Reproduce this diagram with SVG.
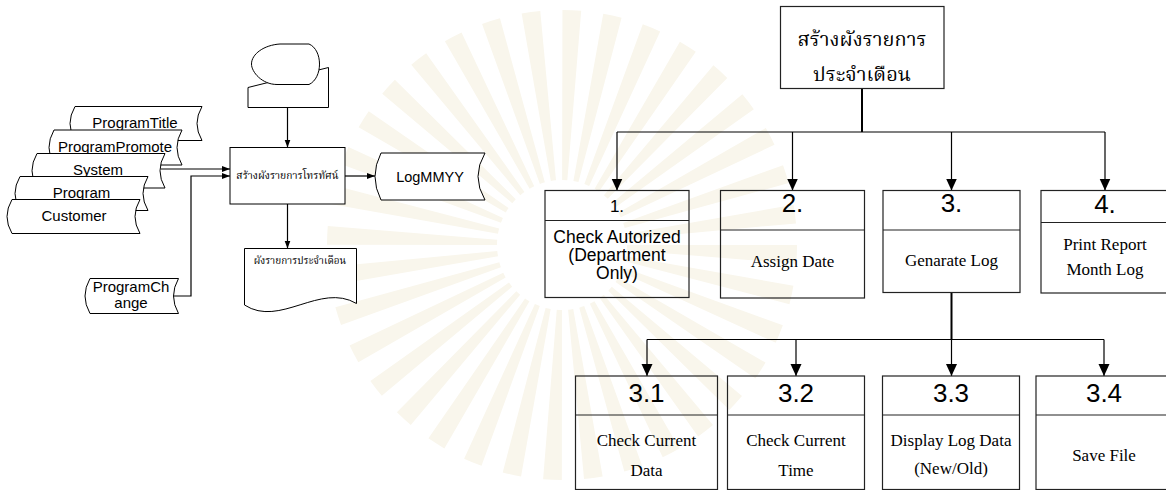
<svg xmlns="http://www.w3.org/2000/svg" width="1166" height="490" viewBox="0 0 1166 490">
<style>
.s{fill:#fff;stroke:#000;stroke-width:1}
.b{fill:none;stroke:#222;stroke-width:1.2}
.ln{fill:none;stroke:#000;stroke-width:1.2}
.th{fill:none;stroke:#000;stroke-width:2}
.a{font-family:"Liberation Sans",Arial,sans-serif;fill:#000;text-anchor:middle}
.t{font-family:"Liberation Serif","Times New Roman",serif;fill:#000;text-anchor:middle;font-size:17px}
.thai{font-family:"Noto Serif Thai","Noto Sans Thai Looped","Loma","Norasi","Garuda","Noto Sans Thai","DejaVu Sans",sans-serif;fill:#000;text-anchor:middle}
</style>
<defs>
<marker id="big" viewBox="0 0 12 12" refX="12" refY="6" markerWidth="12" markerHeight="12" markerUnits="userSpaceOnUse" orient="auto"><path d="M0,0.5 L12,6 L0,11.5 Z" fill="#000"/></marker>
<marker id="sm" viewBox="0 0 8 8" refX="8" refY="4" markerWidth="8" markerHeight="8" markerUnits="userSpaceOnUse" orient="auto"><path d="M0,1 L8,4 L0,7 Z" fill="#000"/></marker>
</defs>
<rect width="1166" height="490" fill="#fff"/>
<g id="watermark">
<circle cx="562" cy="245" r="150" fill="none" stroke="#f9f6ec" stroke-width="170" stroke-dasharray="12 14.18"/>
</g>

<g id="connectors">
<polyline class="ln" points="161,169 230,169" marker-end="url(#sm)"/>
<polyline class="ln" points="173.5,296 191,296 191,176 230,176" marker-end="url(#sm)"/>
<line class="ln" x1="287.5" y1="107.5" x2="287.5" y2="147.5" marker-end="url(#sm)"/>
<line class="ln" x1="345" y1="176" x2="375" y2="176" marker-end="url(#sm)"/>
<line class="ln" x1="287.5" y1="204" x2="287.5" y2="248.5" marker-end="url(#sm)"/>
<line class="th" x1="862" y1="88.5" x2="862" y2="132"/>
<line class="ln" x1="617" y1="132" x2="1105" y2="132"/>
<line class="ln" x1="617" y1="132" x2="617" y2="190.5" marker-end="url(#big)"/>
<line class="ln" x1="792.5" y1="132" x2="792.5" y2="190.5" marker-end="url(#big)"/>
<line class="ln" x1="951.5" y1="132" x2="951.5" y2="190.5" marker-end="url(#big)"/>
<line class="ln" x1="1105" y1="132" x2="1105" y2="190.5" marker-end="url(#big)"/>
<line class="th" x1="951.5" y1="292.5" x2="951.5" y2="339.5"/>
<line class="ln" x1="647" y1="339.5" x2="1104" y2="339.5"/>
<line class="ln" x1="647" y1="339.5" x2="647" y2="376" marker-end="url(#big)"/>
<line class="ln" x1="796" y1="339.5" x2="796" y2="376" marker-end="url(#big)"/>
<line class="ln" x1="951.5" y1="339.5" x2="951.5" y2="376" marker-end="url(#big)"/>
<line class="ln" x1="1104" y1="339.5" x2="1104" y2="376" marker-end="url(#big)"/>
</g>

<g id="ProgramTitle"><path class="s" d="M75,106.5 H202 Q192,123.5 202,140.5 H75 Q65,123.5 75,106.5 Z"/><text class="a" x="135" y="128" font-size="15">ProgramTitle</text></g>
<g id="ProgramPromote"><path class="s" d="M54,130 H182 Q172,147.5 182,165 H54 Q44,147.5 54,130 Z"/><text class="a" x="115" y="152" font-size="15">ProgramPromote</text></g>
<g id="System"><path class="s" d="M37,153.5 H165 Q155,170.7 165,188 H37 Q27,170.7 37,153.5 Z"/><text class="a" x="98" y="175" font-size="15">System</text></g>
<g id="Program"><path class="s" d="M20,176.5 H148 Q138,193.5 148,210.5 H20 Q10,193.5 20,176.5 Z"/><text class="a" x="81.5" y="198" font-size="15">Program</text></g>
<g id="Customer"><path class="s" d="M12,199.5 H140 Q130,216.5 140,233.5 H12 Q2,216.5 12,199.5 Z"/><text class="a" x="74" y="221" font-size="15">Customer</text></g>
<g id="ProgramChange"><path class="s" d="M90,278.5 H178.5 Q168.5,296 178.5,313.5 H90 Q80,296 90,278.5 Z"/><text class="a" x="131" y="292" font-size="15">ProgramCh</text><text class="a" x="131" y="308" font-size="15">ange</text></g>

<g id="input"><path class="s" d="M248,107.5 H328.5 V67.5 L248,87.5 Z"/><path class="s" d="M280,44 H309 C323,50 323,78 309,84.5 H277 C262,84.5 251.5,72 251.5,64 C251.5,54 264,45 280,44 Z"/></g>
<g id="process"><rect class="s" x="230" y="147.5" width="115" height="56.5"/><text class="thai" x="287.5" y="179" font-size="10.3">สร้างผังรายการโทรทัศน์</text></g>
<g id="LogMMYY"><path class="s" d="M381,153 H485 Q471,176.5 485,200 H381 Q369,176.5 381,153 Z"/><text class="a" x="430" y="182" font-size="14.5">LogMMYY</text></g>
<g id="document"><path class="s" d="M244.5,248.5 H356.5 V303.5 C320,282 280,328 244.5,305 Z"/><text class="thai" x="300" y="264" font-size="10">ผังรายการประจำเดือน</text></g>

<g id="root"><rect class="b" x="780.5" y="6.5" width="163.5" height="82" fill="#fff"/><text class="thai" x="862" y="46" font-size="20">สร้างผังรายการ</text><text class="thai" x="862" y="81" font-size="20">ประจำเดือน</text></g>

<g id="n1"><rect class="b" x="545" y="190.5" width="144" height="107"/><line class="b" x1="545" y1="220.5" x2="689" y2="220.5"/><text class="a" x="617" y="212" font-size="17">1.</text><text class="a" x="617" y="243" font-size="17.5">Check Autorized</text><text class="a" x="617" y="261" font-size="17.5">(Department</text><text class="a" x="617" y="279" font-size="17.5">Only)</text></g>
<g id="n2"><rect class="b" x="720.5" y="190.5" width="144" height="107.5"/><line class="b" x1="720.5" y1="230" x2="864.5" y2="230"/><text class="a" x="792.5" y="212" font-size="26">2.</text><text class="t" x="792.5" y="267">Assign Date</text></g>
<g id="n3"><rect class="b" x="883" y="190.5" width="137" height="102"/><line class="b" x1="883" y1="230" x2="1020" y2="230"/><text class="a" x="951.5" y="212" font-size="26">3.</text><text class="t" x="951.5" y="266">Genarate Log</text></g>
<g id="n4"><rect class="b" x="1041" y="190.5" width="130" height="102.5"/><line class="b" x1="1041" y1="222.5" x2="1171" y2="222.5"/><text class="a" x="1105" y="213" font-size="26">4.</text><text class="t" x="1105" y="250">Print Report</text><text class="t" x="1105" y="275">Month Log</text></g>

<g id="n31"><rect class="b" x="575.5" y="376" width="142" height="113.5"/><line class="b" x1="575.5" y1="415" x2="717.5" y2="415"/><text class="a" x="646.5" y="402" font-size="26">3.1</text><text class="t" x="646.5" y="446">Check Current</text><text class="t" x="646.5" y="476">Data</text></g>
<g id="n32"><rect class="b" x="727.5" y="376" width="137" height="113.5"/><line class="b" x1="727.5" y1="415" x2="864.5" y2="415"/><text class="a" x="796" y="402" font-size="26">3.2</text><text class="t" x="796" y="446">Check Current</text><text class="t" x="796" y="476">Time</text></g>
<g id="n33"><rect class="b" x="882.5" y="376" width="137" height="113.5"/><line class="b" x1="882.5" y1="415" x2="1019.5" y2="415"/><text class="a" x="951" y="402" font-size="26">3.3</text><text class="t" x="951" y="446">Display Log Data</text><text class="t" x="951" y="474">(New/Old)</text></g>
<g id="n34"><rect class="b" x="1036" y="376" width="136" height="113.5"/><line class="b" x1="1036" y1="415" x2="1172" y2="415"/><text class="a" x="1104" y="402" font-size="26">3.4</text><text class="t" x="1104" y="461">Save File</text></g>
</svg>
